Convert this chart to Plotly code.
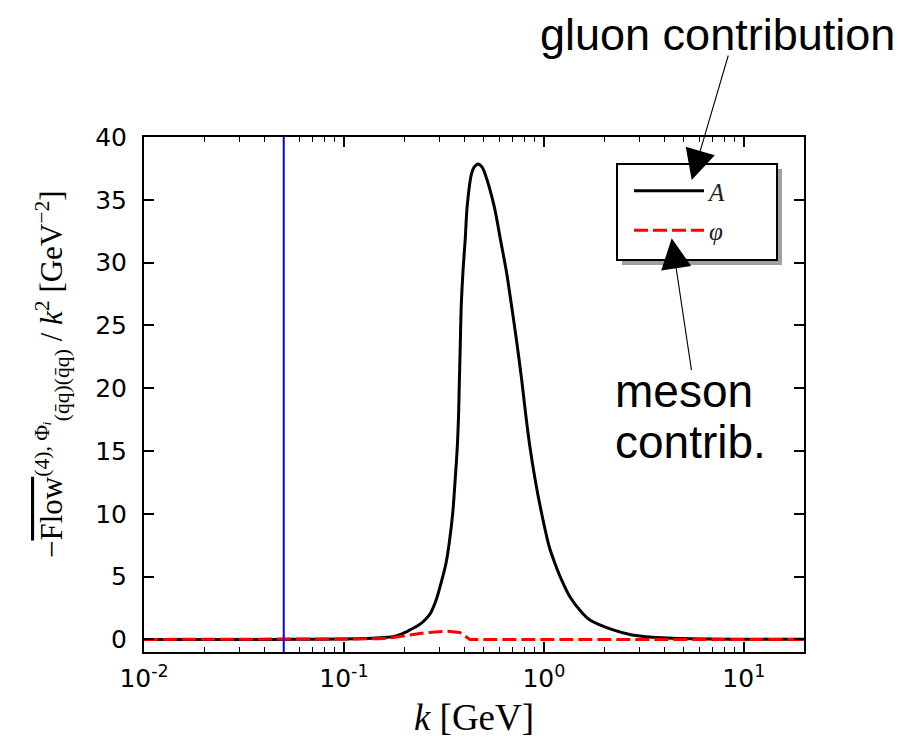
import plotly.graph_objects as go

# ---------------- data ----------------
k_A = [0.010, 0.030, 0.060, 0.100, 0.130, 0.160, 0.176, 0.195, 0.214, 0.235,
       0.254, 0.271, 0.290, 0.309, 0.324, 0.3357, 0.350, 0.360, 0.369, 0.3746,
       0.378, 0.381, 0.386, 0.395, 0.404, 0.4135, 0.435, 0.448, 0.469, 0.491,
       0.507, 0.564, 0.607, 0.651, 0.690, 0.730, 0.774, 0.810, 0.851, 0.905,
       0.974, 1.063, 1.135, 1.226, 1.349, 1.56, 1.70, 2.22, 2.76, 3.5,
       4.4, 10.0, 20.0]
A_vals = [0.0, 0.0, 0.01, 0.03, 0.08, 0.16, 0.22, 0.45, 0.76, 1.10,
          1.55, 2.09, 3.2, 4.74, 6.07, 7.6, 10.05, 12.7, 15.35, 18.0,
          20.7, 22.8, 26.5, 29.6, 31.8, 34.5, 37.1, 37.6, 37.86, 37.6,
          37.1, 34.5, 31.8, 29.2, 26.5, 23.8, 20.7, 18.0, 15.35, 12.7,
          10.05, 7.4, 6.07, 4.74, 3.4, 2.09, 1.55, 0.76, 0.36, 0.18,
          0.10, 0.02, 0.01]

k_phi = [0.010, 0.100, 0.150, 0.176, 0.200, 0.222, 0.260, 0.300, 0.330,
         0.380, 0.400, 0.427, 1.0, 20.0]
phi_vals = [0.0, 0.02, 0.05, 0.15, 0.28, 0.42, 0.55, 0.62, 0.65,
            0.55, 0.30, 0.0, 0.0, 0.0]

k_cut = 0.05  # blue vertical marker

x_tickvals = [0.01, 0.1, 1, 10]
x_ticktext = ["10<sup>-2</sup>", "10<sup>-1</sup>", "10<sup>0</sup>", "10<sup>1</sup>"]
x_minor = [m * 10.0 ** e for e in (-2, -1, 0, 1) for m in range(2, 10) if m * 10.0 ** e <= 20]

legend_labels = ["<i>A</i>", "<i>φ</i>"]

# ---------------- figure ----------------
fig = go.Figure()
fig.add_trace(go.Scatter(x=k_A, y=A_vals, mode="lines", name=legend_labels[0],
                         legendgroup="a",
                         line=dict(color="black", width=3, shape="spline", smoothing=0.8)))
fig.add_trace(go.Scatter(x=k_phi, y=phi_vals, mode="lines", name=legend_labels[1],
                         legendgroup="b",
                         line=dict(color="red", width=3, dash="14px,5px")))
fig.add_vline(x=k_cut, line=dict(color="blue", width=2))

# the page body has an 8px margin: size the figure so it fits the window
W, H = 916, 736
L, R, T, B = 136, 120, 129, 92
PW, PH = W - L - R, H - T - B
OFF = 8


def px(xs):
    # screen x -> paper x
    return (xs - OFF - L) / PW


def py(ys):
    # screen y -> paper y
    return (H - B - (ys - OFF)) / PH


# legend box with shadow
fig.add_shape(type="rect", xref="paper", yref="paper",
              x0=px(622), x1=px(782), y0=py(265), y1=py(169),
              fillcolor="#a0a0a0", line=dict(width=0))
fig.add_shape(type="rect", xref="paper", yref="paper",
              x0=px(617), x1=px(777), y0=py(260), y1=py(164),
              fillcolor="white", line=dict(color="black", width=2))

ann_font = dict(family="Liberation Sans", size=46, color="black")
fig.add_annotation(text="gluon contribution", xref="paper", yref="paper",
                   x=px(538), y=py(34), xanchor="left", yanchor="middle",
                   showarrow=False, font=dict(family="Liberation Sans", size=45, color="black"))
fig.add_annotation(text="meson", xref="paper", yref="paper",
                   x=px(613), y=py(391), xanchor="left", yanchor="middle",
                   showarrow=False, font=ann_font)
fig.add_annotation(text="contrib.", xref="paper", yref="paper",
                   x=px(613), y=py(442), xanchor="left", yanchor="middle",
                   showarrow=False, font=ann_font)
fig.add_annotation(text="", xref="paper", yref="paper",
                   x=px(691.7), y=py(180), ax=37, ay=-126,
                   showarrow=True, arrowhead=2, arrowsize=5.5, arrowwidth=1.1,
                   arrowcolor="black")
fig.add_annotation(text="", xref="paper", yref="paper",
                   x=px(671.7), y=py(238.3), ax=20, ay=133.4,
                   showarrow=True, arrowhead=2, arrowsize=5.5, arrowwidth=1.1,
                   arrowcolor="black")

tick_font = dict(family="DejaVu Sans", size=25, color="black")
label_font = dict(family="Liberation Serif", size=31, color="black")

ylabel = ("−<span style=\"text-decoration:overline\">Flow</span>"
          "<sup>(4), Φ<i>ᵢ</i></sup><sub>(q̄q)(q̄q)</sub>"
          " / <i>k</i><sup>2</sup> [GeV<sup>−2</sup>]")

# y-axis title, placed as a rotated annotation at the reference position
fig.add_annotation(text=ylabel, xref="paper", yref="paper",
                   x=px(52), y=py(374), xanchor="center", yanchor="middle",
                   textangle=-90, showarrow=False, font=label_font)

fig.update_layout(
    width=W, height=H,
    margin=dict(l=L, r=R, t=T, b=B, autoexpand=False),
    paper_bgcolor="white", plot_bgcolor="white",
    showlegend=True,
    legend=dict(x=px(629), y=py(168), xanchor="left", yanchor="top",
                bgcolor="rgba(0,0,0,0)", borderwidth=0,
                font=dict(family="Liberation Serif", size=25, color="#222"),
                tracegroupgap=4, itemwidth=70),
    xaxis=dict(type="log", range=[-2, 1.30103],
               tickvals=x_tickvals, ticktext=x_ticktext,
               ticks="inside", ticklen=10, tickwidth=1.5, tickcolor="black",
               minor=dict(tickvals=x_minor, ticks="inside", ticklen=5,
                          tickwidth=1.2, tickcolor="black"),
               showline=True, linecolor="black", linewidth=2, mirror="allticks",
               showgrid=False, zeroline=False,
               tickfont=tick_font, ticklabelstandoff=3,
               title=dict(text="<i>k</i> [GeV]",
                          font=dict(family="Liberation Serif", size=37, color="black"),
                          standoff=12)),
    yaxis=dict(range=[-1, 40], tick0=0, dtick=5,
               ticks="inside", ticklen=10, tickwidth=1.5, tickcolor="black",
               showline=True, linecolor="black", linewidth=2, mirror="allticks",
               showgrid=False, zeroline=False,
               tickfont=tick_font, ticklabelstandoff=10),
)

fig.write_html("out.html")
